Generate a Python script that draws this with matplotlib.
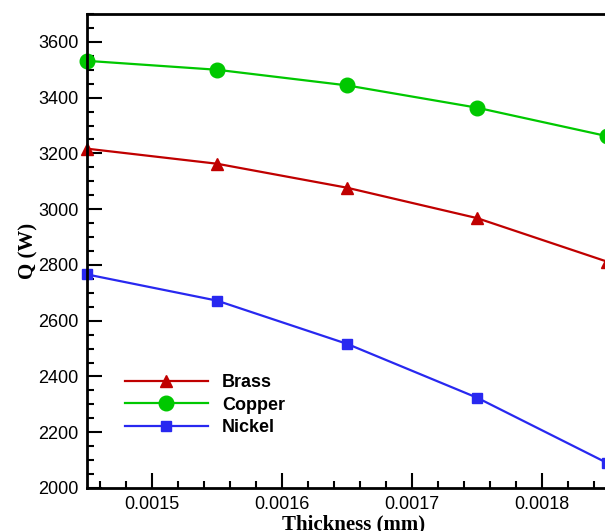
import matplotlib.pyplot as plt
from matplotlib.ticker import MultipleLocator

# thickness (mm) and heat transfer Q (W)
thickness = [0.00145, 0.00155, 0.00165, 0.00175, 0.00185]
brass = [3217, 3163, 3077, 2968, 2812]
copper = [3532, 3500, 3444, 3364, 3262]
nickel = [2766, 2672, 2517, 2324, 2090]

x_ticks = [0.0015, 0.0016, 0.0017, 0.0018]
x_tick_labels = ["0.0015", "0.0016", "0.0017", "0.0018"]

fig = plt.figure(figsize=(6.05, 5.31), dpi=100)
# axes runs past the right edge of the picture, like the cropped original
ax = fig.add_axes([87 / 605, 43 / 531, 533 / 605, 474 / 531])

ax.plot(thickness, brass, color="#c00000", lw=1.6, marker="^", ms=9,
        label="Brass", clip_on=False)
ax.plot(thickness, copper, color="#00c800", lw=1.6, marker="o", ms=10.5,
        label="Copper", clip_on=False)
ax.plot(thickness, nickel, color="#2828f0", lw=1.6, marker="s", ms=7.5,
        label="Nickel", clip_on=False)

ax.set_xlim(0.00145, 0.00145 + 533 / 130 * 0.0001)
ax.set_ylim(2000, 3700)
ax.set_xticks(x_ticks)
ax.set_xticklabels(x_tick_labels)
ax.set_yticks(range(2000, 3700, 200))
ax.xaxis.set_minor_locator(MultipleLocator(0.00002))
ax.yaxis.set_minor_locator(MultipleLocator(50))

ax.tick_params(which="both", direction="in", top=False, right=False,
               labelsize=13, width=1.5, pad=6, labelfontfamily="Liberation Sans")
ax.tick_params(which="major", length=11)
ax.tick_params(which="minor", length=5)
for s in ax.spines.values():
    s.set_linewidth(2)

ax.set_xlabel("Thickness (mm)", fontsize=15, fontweight="bold",
              family="Liberation Serif", labelpad=1)
ax.set_ylabel("Q (W)", fontsize=15, fontweight="bold",
              family="Liberation Serif", labelpad=0)

leg = ax.legend(loc="lower left", bbox_to_anchor=(0.04, 0.075), frameon=False,
                handlelength=4.6, handletextpad=0.8, labelspacing=0.3,
                prop={"family": "Liberation Sans", "weight": "bold", "size": 13})

fig.savefig("out.png", dpi=100)
